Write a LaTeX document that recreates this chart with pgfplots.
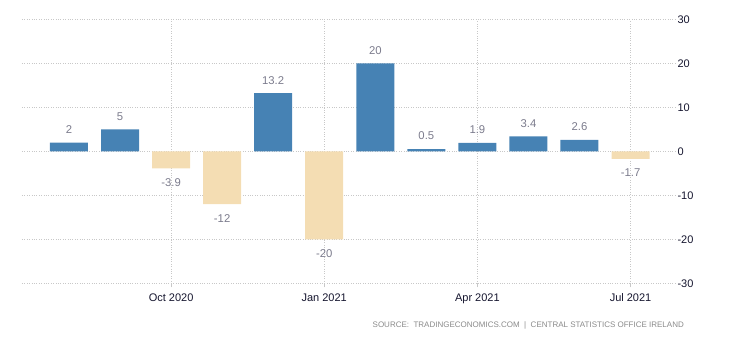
\documentclass[border=0pt]{standalone}
\usepackage{pgfplots}
\pgfplotsset{compat=1.18}
\usepackage{fontspec}
\setmainfont{Liberation Sans}
\definecolor{barblue}{HTML}{4682B4}
\definecolor{barbeige}{HTML}{F4DDB3}
\definecolor{vallab}{HTML}{7B7B8C}
\definecolor{gridc}{HTML}{C8C8C8}
\definecolor{srcc}{HTML}{8A8A8A}
\definecolor{tickc}{HTML}{15152E}
\begin{document}
\begin{tikzpicture}
\path[use as bounding box] (-22pt,-56.7pt) rectangle (708pt,283.3pt);
\begin{axis}[
  at={(0pt,0pt)}, anchor=south west,
  scale only axis, width=655pt, height=264pt,
  xmin=-0.92, xmax=11.91, ymin=-30, ymax=30,
  axis line style={draw=none},
  xtick={2,5,8,11}, xticklabels={Oct 2020,Jan 2021,Apr 2021,Jul 2021},
  ytick={-30,-20,-10,0,10,20,30},
  yticklabels={-30,-20,-10,0,10,20,30},
  yticklabel pos=right,
  yticklabel style={anchor=west, xshift=-3pt, font=\fontsize{11}{13}\selectfont, text=tickc},
  xticklabel style={yshift=-3pt, font=\fontsize{11}{13}\selectfont, text=tickc},
  ytick style={draw=none},
  xtick style={draw=gridc, line width=0.8pt},
  xtick align=outside, major tick length=4pt,
  xtick pos=bottom,
  grid=major,
  major grid style={gridc, dotted, line width=0.8pt},
  ybar, bar width=38pt, bar shift=0pt,
  point meta=explicit symbolic,
  nodes near coords,
  every node near coord/.append style={font=\fontsize{11.3}{13}\selectfont, text=vallab, anchor=center},
  clip=false,
]
\addplot[fill=barblue, draw=none,
  every node near coord/.append style={yshift=13pt}] coordinates {
  (0,2) [2]
  (1,5) [5]
  (4,13.2) [13.2]
  (6,20) [20]
  (7,0.5) [0.5]
  (8,1.9) [1.9]
  (9,3.4) [3.4]
  (10,2.6) [2.6]
};
\addplot[fill=barbeige, draw=none,
  every node near coord/.append style={yshift=-14pt}] coordinates {
  (2,-3.9) [-3.9]
  (3,-12) [-12]
  (5,-20) [-20]
  (11,-1.7) [-1.7]
};
\end{axis}
\node[anchor=east, inner sep=0pt, text=srcc, font=\fontsize{8}{9}\selectfont] at (662pt,-41.7pt)
  {SOURCE:\ \ TRADINGECONOMICS.COM\ \ |\ \ CENTRAL\ STATISTICS\ OFFICE\ IRELAND};
\end{tikzpicture}
\end{document}
